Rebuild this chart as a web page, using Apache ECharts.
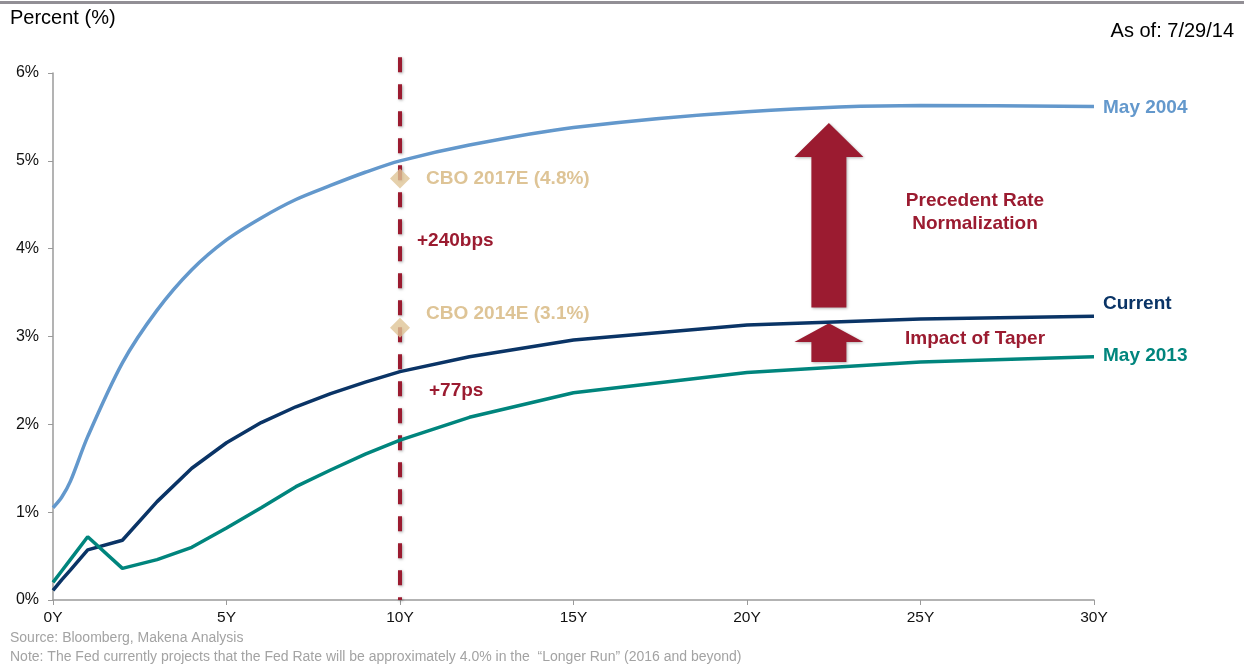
<!DOCTYPE html>
<html>
<head>
<meta charset="utf-8">
<title>Yield curves</title>
<script src="https://cdn.jsdelivr.net/npm/echarts@6/dist/echarts.min.js"></script>
<style>
  html, body { margin: 0; padding: 0; background: #fff; }
  #chart { width: 1244px; height: 666px; }
</style>
</head>
<body>
<div id="chart"></div>
<script>
// 期限（年）
var tenors = [0, 0.25, 0.5, 1, 2, 3, 4, 5, 6, 7, 8, 9, 10, 12, 15, 20, 25, 30];
// 各曲线收益率 (%)
var may2004 = [1.05, 1.17, 1.35, 1.86, 2.70, 3.30, 3.76, 4.10, 4.35, 4.56, 4.72, 4.87, 5.00, 5.18, 5.38, 5.56, 5.63, 5.62];
var current = [0.11, 0.23, 0.34, 0.57, 0.68, 1.12, 1.50, 1.79, 2.02, 2.20, 2.35, 2.48, 2.60, 2.77, 2.96, 3.13, 3.20, 3.23];
var may2013 = [0.20, 0.33, 0.46, 0.72, 0.36, 0.46, 0.60, 0.82, 1.05, 1.29, 1.48, 1.66, 1.82, 2.08, 2.36, 2.59, 2.71, 2.77];
// CBO 预测点
var cboPoints = [[10, 4.8], [10, 3.1]];
// 10Y 虚线
var tenYearLine = [[10, 6.18], [10, 0]];
// 箭头: [x, 起点y, 终点y]
var arrows = [[22.36, 3.33, 5.43], [22.36, 2.71, 3.15]];

function pairs(xs, ys) {
  var out = [];
  for (var i = 0; i < xs.length; i++) {
    out.push([xs[i], ys[i]]);
  }
  return out;
}

var red = "#9b1b30";
var tan = "#dec496";
var font = "Arial, 'Liberation Sans', sans-serif";

var myChart = echarts.init(document.getElementById("chart"));

var option = {
  animation: false,
  grid: {
    left: 53,
    right: 150,
    top: 73,
    bottom: 66,
  },
  xAxis: {
    type: "value",
    min: 0,
    max: 30,
    interval: 5,
    axisLine: { lineStyle: { color: "#9a9a9a", width: 1.5 } },
    axisTick: { show: true, inside: false, length: 5, lineStyle: { color: "#9a9a9a" } },
    axisLabel: {
      color: "#111",
      fontSize: 15.5,
      fontFamily: font,
      margin: 10,
      formatter: function (v) { return v + "Y"; },
    },
    splitLine: { show: false },
  },
  yAxis: {
    type: "value",
    min: 0,
    max: 6,
    interval: 1,
    axisLine: { show: true, lineStyle: { color: "#9a9a9a", width: 1.5 } },
    axisTick: { show: true, inside: false, length: 5, lineStyle: { color: "#9a9a9a" } },
    axisLabel: {
      color: "#111",
      fontSize: 16,
      fontFamily: font,
      margin: 14,
      formatter: "{value}%",
    },
    splitLine: { show: false },
  },
  series: [
    {
      name: "10Y",
      type: "line",
      data: tenYearLine,
      symbol: "none",
      clip: false,
      z: 1,
      lineStyle: {
        color: red,
        width: 4,
        type: [15, 12],
        shadowColor: "rgba(0,0,0,0.35)",
        shadowBlur: 3,
        shadowOffsetX: 1,
        shadowOffsetY: 1,
      },
    },
    {
      name: "May 2004",
      type: "line",
      data: pairs(tenors, may2004),
      symbol: "none",
      smooth: 0.3,
      z: 3,
      lineStyle: { color: "#6398cc", width: 3.5 },
      endLabel: {
        show: true,
        formatter: "May 2004",
        color: "#6398cc",
        fontWeight: "bold",
        fontSize: 19,
        fontFamily: font,
        distance: 9,
        offset: [0, 1],
      },
    },
    {
      name: "Current",
      type: "line",
      data: pairs(tenors, current),
      symbol: "none",
      z: 3,
      lineStyle: { color: "#0a3466", width: 3.5 },
      endLabel: {
        show: true,
        formatter: "Current",
        color: "#0a3466",
        fontWeight: "bold",
        fontSize: 19,
        fontFamily: font,
        distance: 9,
        offset: [0, -13],
      },
    },
    {
      name: "May 2013",
      type: "line",
      data: pairs(tenors, may2013),
      symbol: "none",
      z: 3,
      lineStyle: { color: "#00857d", width: 3.5 },
      endLabel: {
        show: true,
        formatter: "May 2013",
        color: "#00857d",
        fontWeight: "bold",
        fontSize: 19,
        fontFamily: font,
        distance: 9,
        offset: [0, -1],
      },
    },
    {
      name: "CBO",
      type: "scatter",
      data: cboPoints,
      symbol: "diamond",
      symbolSize: [20, 20],
      z: 4,
      itemStyle: { color: tan },
    },
    {
      name: "arrows",
      type: "custom",
      data: arrows,
      z: 2,
      renderItem: function (params, api) {
        var base = api.coord([api.value(0), api.value(1)]);
        var tip = api.coord([api.value(0), api.value(2)]);
        var total = base[1] - tip[1];
        var headLen = Math.min(34, total * 0.48);
        var shaft = 17.5;
        var head = 34.5;
        var cx = tip[0];
        var hb = tip[1] + headLen;
        return {
          type: "polygon",
          shape: {
            points: [
              [cx, tip[1]],
              [cx + head, hb],
              [cx + shaft, hb],
              [cx + shaft, base[1]],
              [cx - shaft, base[1]],
              [cx - shaft, hb],
              [cx - head, hb],
            ],
          },
          style: {
            fill: red,
            shadowColor: "rgba(0,0,0,0.3)",
            shadowBlur: 3,
            shadowOffsetX: 1,
            shadowOffsetY: 1,
          },
        };
      },
    },
  ],
  graphic: [
    // 顶部灰线
    { type: "rect", shape: { x: 0, y: 1, width: 1244, height: 3 }, style: { fill: "#928f95" } },
    {
      type: "text", left: 10, top: 8,
      style: { text: "Percent (%)", fill: "#000", font: "20px " + font },
    },
    {
      type: "text", right: 10, top: 21,
      style: { text: "As of: 7/29/14", fill: "#000", font: "20px " + font },
    },
    {
      type: "text", x: 426, y: 179,
      style: { text: "CBO 2017E (4.8%)", fill: tan, font: "bold 19px " + font, verticalAlign: "middle" },
    },
    {
      type: "text", x: 426, y: 314,
      style: { text: "CBO 2014E (3.1%)", fill: tan, font: "bold 19px " + font, verticalAlign: "middle" },
    },
    {
      type: "text", x: 417, y: 241,
      style: { text: "+240bps", fill: red, font: "bold 19px " + font, verticalAlign: "middle" },
    },
    {
      type: "text", x: 429, y: 391,
      style: { text: "+77ps", fill: red, font: "bold 19px " + font, verticalAlign: "middle" },
    },
    {
      type: "text", x: 975, y: 212,
      style: {
        text: "Precedent Rate\nNormalization", fill: red, font: "bold 19px " + font,
        align: "center", verticalAlign: "middle", lineHeight: 23,
      },
    },
    {
      type: "text", x: 975, y: 339,
      style: { text: "Impact of Taper", fill: red, font: "bold 19px " + font, align: "center", verticalAlign: "middle" },
    },
    {
      type: "text", x: 10, y: 638,
      style: { text: "Source: Bloomberg, Makena Analysis", fill: "#a3a3a3", font: "14px " + font, verticalAlign: "middle" },
    },
    {
      type: "text", x: 10, y: 657,
      style: {
        text: "Note: The Fed currently projects that the Fed Rate will be approximately 4.0% in the  \u201cLonger Run\u201d (2016 and beyond)",
        fill: "#a3a3a3", font: "14px " + font, verticalAlign: "middle",
      },
    },
  ],
};

myChart.setOption(option);
window.addEventListener("resize", function () {
  myChart.resize();
});
</script>
</body>
</html>
